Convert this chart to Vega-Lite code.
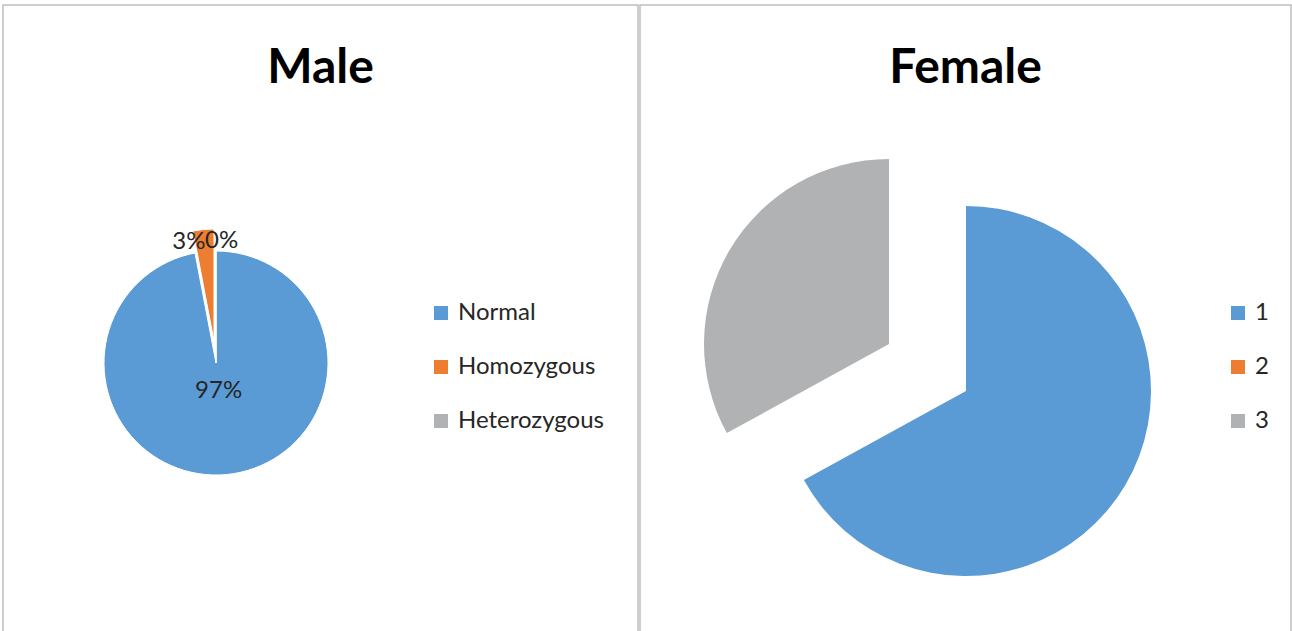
{
  "$schema": "https://vega.github.io/schema/vega-lite/v6.json",
  "padding": {"left": 2, "top": 4, "right": 2, "bottom": 0},
  "background": "white",
  "spacing": 0,
  "config": {
    "view": {"stroke": "#bfbfbf", "strokeWidth": 1.5},
    "font": "Lato",
    "title": {"fontSize": 48, "fontWeight": "bold", "color": "#000000", "offset": -88, "anchor": "middle", "font": "Lato"},
    "legend": {"labelFont": "Lato", "labelFontSize": 24, "labelColor": "#262626", "symbolType": "square", "symbolSize": 196, "symbolStrokeWidth": 0, "symbolOpacity": 1, "rowPadding": 30, "labelOffset": 5, "title": null, "orient": "none", "labelLimit": 300}
  },
  "resolve": {"scale": {"color": "independent"}, "legend": {"color": "independent"}},
  "hconcat": [
    {
      "width": 635,
      "height": 640,
      "view": {"stroke": "#bfbfbf", "strokeWidth": 1.5, "fill": "white"},
      "title": {"text": "Male"},
      "data": {"values": [
        {"cat": "Normal", "pct": 97, "ord": 1, "label": "97%"},
        {"cat": "Homozygous", "pct": 3, "ord": 2, "label": "3%"},
        {"cat": "Heterozygous", "pct": 0, "ord": 3, "label": "0%"}
      ]},
      "layer": [
        {
          "mark": {"type": "arc", "x": 213, "y": 358, "outerRadius": 112, "stroke": "white", "strokeWidth": 1},
          "encoding": {
            "theta": {"field": "pct", "type": "quantitative", "stack": true},
            "order": {"field": "ord", "type": "quantitative"},
            "color": {"field": "cat", "type": "nominal", "scale": {"domain": ["Normal", "Homozygous", "Heterozygous"], "range": ["#5B9BD5", "#ED7D31", "#B1B2B4"]}, "legend": {"legendX": 426, "legendY": 296}},
            "opacity": {"condition": {"test": "datum.cat != 'Homozygous'", "value": 1}, "value": 0}
          }
        },
        {
          "mark": {"type": "arc", "x": 211, "y": 336, "outerRadius": 112, "stroke": "white", "strokeWidth": 1},
          "encoding": {
            "theta": {"field": "pct", "type": "quantitative", "stack": true},
            "order": {"field": "ord", "type": "quantitative"},
            "color": {"field": "cat", "type": "nominal", "scale": {"domain": ["Normal", "Homozygous", "Heterozygous"], "range": ["#5B9BD5", "#ED7D31", "#B1B2B4"]}, "legend": {"legendX": 426, "legendY": 296}},
            "opacity": {"condition": {"test": "datum.cat == 'Homozygous'", "value": 1}, "value": 0}
          }
        },
        {
          "mark": {"type": "text", "x": 213, "y": 358, "radius": 28, "fontSize": 24, "font": "Lato", "color": "#262626"},
          "encoding": {
            "theta": {"field": "pct", "type": "quantitative", "stack": true},
            "order": {"field": "ord", "type": "quantitative"},
            "text": {"condition": {"test": "datum.cat == 'Normal'", "field": "label"}, "value": ""}
          }
        },
        {
          "mark": {"type": "text", "x": 213, "y": 358, "radius": 122, "fontSize": 24, "font": "Lato", "color": "#262626", "align": "right", "dx": 1},
          "encoding": {
            "theta": {"field": "pct", "type": "quantitative", "stack": true},
            "order": {"field": "ord", "type": "quantitative"},
            "text": {"condition": {"test": "datum.cat == 'Homozygous'", "field": "label"}, "value": ""}
          }
        },
        {
          "mark": {"type": "text", "x": 213, "y": 358, "radius": 122, "fontSize": 24, "font": "Lato", "color": "#262626", "align": "left", "dx": -11},
          "encoding": {
            "theta": {"field": "pct", "type": "quantitative", "stack": true},
            "order": {"field": "ord", "type": "quantitative"},
            "text": {"condition": {"test": "datum.cat == 'Heterozygous'", "field": "label"}, "value": ""}
          }
        }
      ]
    },
    {
      "width": 651,
      "height": 640,
      "view": {"stroke": "#bfbfbf", "strokeWidth": 1.5, "fill": "white"},
      "title": {"text": "Female"},
      "data": {"values": [
        {"cat": "1", "val": 67, "ord": 1},
        {"cat": "2", "val": 0, "ord": 2},
        {"cat": "3", "val": 33, "ord": 3}
      ]},
      "layer": [
        {
          "mark": {"type": "arc", "x": 326, "y": 386, "outerRadius": 185},
          "encoding": {
            "theta": {"field": "val", "type": "quantitative", "stack": true},
            "order": {"field": "ord", "type": "quantitative"},
            "color": {"field": "cat", "type": "nominal", "scale": {"domain": ["1", "2", "3"], "range": ["#5B9BD5", "#ED7D31", "#B1B2B4"]}, "legend": {"legendX": 586, "legendY": 296}},
            "opacity": {"condition": {"test": "datum.cat != '3'", "value": 1}, "value": 0}
          }
        },
        {
          "mark": {"type": "arc", "x": 249, "y": 339, "outerRadius": 185},
          "encoding": {
            "theta": {"field": "val", "type": "quantitative", "stack": true},
            "order": {"field": "ord", "type": "quantitative"},
            "color": {"field": "cat", "type": "nominal", "scale": {"domain": ["1", "2", "3"], "range": ["#5B9BD5", "#ED7D31", "#B1B2B4"]}, "legend": {"legendX": 586, "legendY": 296}},
            "opacity": {"condition": {"test": "datum.cat == '3'", "value": 1}, "value": 0}
          }
        }
      ]
    }
  ]
}
